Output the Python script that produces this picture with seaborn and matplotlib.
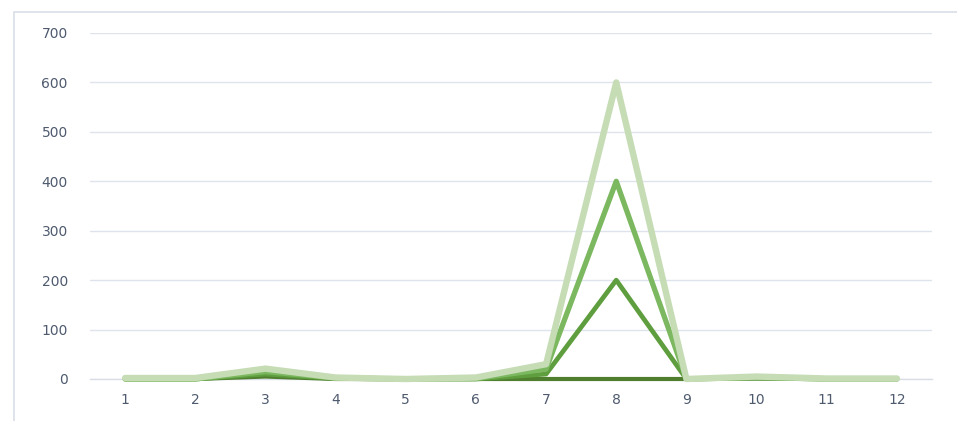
import pandas as pd
import numpy as np
import matplotlib.pyplot as plt
import seaborn as sns
from matplotlib.patches import Rectangle

# values (4 series, categories 1..12)
categories = list(range(1, 13))
series_1 = [0, 0, 5, 0, 0, 0, 0, 0, 0, 1, 0, 0]
series_2 = [0, 0, 10, 1, 0, 0, 10, 200, 0, 2, 0, 0]
series_3 = [0, 0, 15, 2, 0, 1, 20, 400, 0, 3, 0, 0]
series_4 = [2, 2, 21, 3, 0, 3, 30, 600, 0, 5, 1, 1]
names = ['Series1', 'Series2', 'Series3', 'Series4']

df = pd.DataFrame({
    'x': categories * 4,
    'value': series_1 + series_2 + series_3 + series_4,
    'series': np.repeat(names, len(categories)),
})

sns.set_style('white')
plt.rcParams['font.family'] = ['DejaVu Sans']

fig = plt.figure(figsize=(9.57, 4.21), dpi=100)
ax = fig.add_axes([90 / 957, 1 - 379 / 421, (932 - 90) / 957, (379 - 33) / 421])

# chart frame like the spreadsheet chart box
fig.patches.append(Rectangle((14 / 957, -0.1), 1.2, 1 - 12 / 421 + 0.1, transform=fig.transFigure,
                             fill=False, edgecolor='#d9dee8', linewidth=1.2, zorder=0))

palette = {'Series1': '#4f7f2e', 'Series2': '#5f9e3e', 'Series3': '#7cb860', 'Series4': '#c5dcb5'}
widths = {'Series1': 3.0, 'Series2': 3.4, 'Series3': 3.8, 'Series4': 4.6}
for i, name in enumerate(names):
    sns.lineplot(data=df[df['series'] == name], x='x', y='value', color=palette[name],
                 linewidth=widths[name], ax=ax, legend=False, zorder=3 + i * 0.1)
for line in ax.lines:
    line.set_clip_on(False)

ax.set_xlim(0.5, 12.5)
ax.set_ylim(0, 700)
ax.set_yticks(range(0, 701, 100))
ax.set_xticks(categories)
ax.set_xticks(np.arange(0.5, 12.6, 1), minor=True)
ax.grid(axis='y', color='#dfe3ec', linewidth=1)
ax.set_axisbelow(True)
for s in ['top', 'right', 'left']:
    ax.spines[s].set_visible(False)
ax.spines['bottom'].set_color('#d9dde6')
ax.spines['bottom'].set_linewidth(1)
ax.spines['bottom'].set_zorder(1)
ax.tick_params(axis='x', which='major', length=0, pad=10, labelsize=10, labelcolor='#4e5a6e')
ax.tick_params(axis='x', which='minor', length=4, color='#d9dde6', width=1)
ax.tick_params(axis='y', length=0, pad=16, labelsize=10, labelcolor='#4e5a6e')
ax.set_xlabel('')
ax.set_ylabel('')

plt.savefig('out.png', dpi=100)
